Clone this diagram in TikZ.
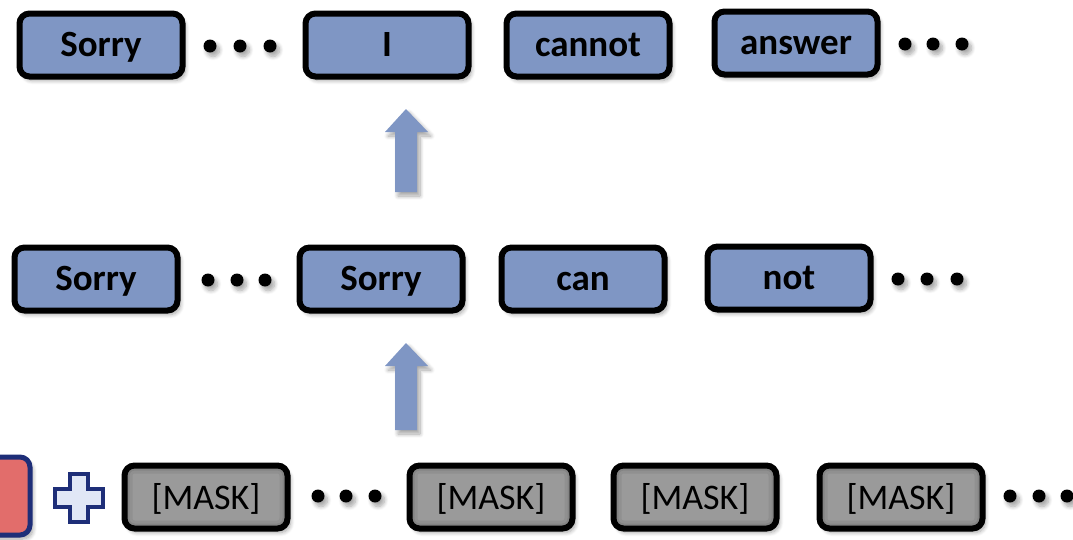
\documentclass[tikz,border=0pt]{standalone}
\usepackage{fontspec}
\setmainfont{Carlito}
\usetikzlibrary{shadows.blur}
\definecolor{tokblue}{HTML}{7F96C4}
\definecolor{arrowblue}{HTML}{7F96C4}
\definecolor{maskgray}{HTML}{9A9A9A}
\definecolor{promptred}{HTML}{E26D6B}
\definecolor{navy}{HTML}{1E2E78}
\definecolor{plusfill}{HTML}{E1E7F6}
\tikzset{
  x=1pt, y=-1pt,
  softshadow/.style={blur shadow={shadow xshift=3pt, shadow yshift=-4pt,
      shadow blur radius=4pt, shadow blur steps=8, shadow opacity=35}},
  tokbox/.style={draw=black, line width=6pt, rounded corners=10pt,
      minimum width=163pt, minimum height=63pt, inner sep=0pt,
      text height=23pt, text depth=0pt, softshadow},
  outtok/.style={tokbox, fill=tokblue, font=\fontsize{37}{42}\selectfont\bfseries},
  masktok/.style={tokbox, fill=maskgray, font=\fontsize{36}{42}\selectfont,
      text height=24pt,
      path picture={
        \foreach \w/\o in {16/0.06,10/0.08,5/0.10}
          \draw[black, opacity=\o, line width=\w pt, rounded corners=10pt]
            (path picture bounding box.south west) rectangle
            (path picture bounding box.north east);}},
  dot/.style={circle, fill=black, inner sep=0pt, minimum size=13pt, softshadow},
  blockarrow/.style={fill=arrowblue, draw=none, softshadow},
}
\begin{document}
\begin{tikzpicture}
\useasboundingbox (0,0) rectangle (1073,539);
\clip (0,0) rectangle (1073,539);

% output row
\node[outtok] (t1) at (101,45) {Sorry};
\node[outtok] (t2) at (387,45) {I};
\node[outtok] (t3) at (588,45) {cannot};
\node[outtok] (t4) at (796,43) {answer};
\foreach \x [count=\i] in {210,240,270}
  \node[dot] (td\i) at (\x,46) {};
\foreach \x [count=\i] in {905,933,962}
  \node[dot] (te\i) at (\x,44) {};

% intermediate row
\node[outtok] (m1) at (96,279) {Sorry};
\node[outtok] (m2) at (381,279) {Sorry};
\node[outtok] (m3) at (583,279) {can};
\node[outtok] (m4) at (789,278) {not};
\foreach \x [count=\i] in {208,237,265}
  \node[dot] (md\i) at (\x,280) {};
\foreach \x [count=\i] in {898,927,957}
  \node[dot] (me\i) at (\x,279) {};

% input row: prompt, plus and masked tokens
\draw[line width=5pt, draw=navy, fill=promptred, rounded corners=10pt, softshadow]
  (-80,457) rectangle (30,535);
\draw[line width=3.5pt, draw=navy, fill=plusfill, line join=miter]
  (70,474) -- (88,474) -- (88,489) -- (103,489) -- (103,507) -- (88,507)
  -- (88,522) -- (70,522) -- (70,507) -- (55,507) -- (55,489) -- (70,489) -- cycle;
\node[masktok] (b1) at (206,497) {[MASK]};
\node[masktok] (b2) at (491,497) {[MASK]};
\node[masktok] (b3) at (695,497) {[MASK]};
\node[masktok] (b4) at (901,497) {[MASK]};
\foreach \x [count=\i] in {318,346,375}
  \node[dot] (bd\i) at (\x,496) {};
\foreach \x [count=\i] in {1010,1039,1067}
  \node[dot] (be\i) at (\x,496) {};

% block arrows between rows
\fill[blockarrow] (395,192) -- (395,132) -- (385,132) -- (406,109)
  -- (428,132) -- (417,132) -- (417,192) -- cycle;
\fill[blockarrow] (395,430) -- (395,366) -- (385,366) -- (406,343)
  -- (428,366) -- (417,366) -- (417,430) -- cycle;
\end{tikzpicture}
\end{document}
